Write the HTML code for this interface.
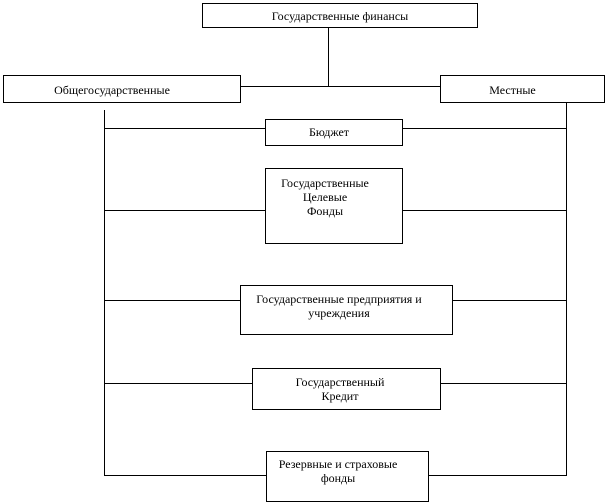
<!DOCTYPE html>
<html><head><meta charset="utf-8"><style>
html,body{margin:0;padding:0;background:#fff;}
body{width:605px;height:504px;position:relative;overflow:hidden;font-family:"Liberation Serif","DejaVu Serif",serif;font-size:12px;color:#000;}
.b{position:absolute;border:1px solid #000;box-sizing:border-box;background:#fff;line-height:14px;}
.l{position:absolute;background:#000;}
.t{position:absolute;white-space:nowrap;line-height:14px;}
</style></head><body>
<div class="l" style="left:328px;top:27px;width:1px;height:60px"></div>
<div class="l" style="left:240px;top:86px;width:200px;height:1px"></div>
<div class="l" style="left:104px;top:110px;width:1px;height:366px"></div>
<div class="l" style="left:566px;top:102px;width:1px;height:374px"></div>
<div class="l" style="left:104px;top:128px;width:462px;height:1px"></div>
<div class="l" style="left:104px;top:210px;width:462px;height:1px"></div>
<div class="l" style="left:104px;top:300px;width:462px;height:1px"></div>
<div class="l" style="left:104px;top:383px;width:462px;height:1px"></div>
<div class="l" style="left:104px;top:475px;width:462px;height:1px"></div>

<div class="b" style="left:202px;top:3px;width:276px;height:25px;text-align:center;padding-top:5px">Государственные финансы</div>
<div class="b" style="left:3px;top:75px;width:238px;height:28px;text-align:center;padding-top:7px;padding-right:20px">Общегосударственные</div>
<div class="b" style="left:440px;top:75px;width:165px;height:28px;text-align:center;padding-top:7px;padding-right:20px">Местные</div>
<div class="b" style="left:265px;top:119px;width:138px;height:27px;text-align:center;padding-top:5px;padding-right:10px">Бюджет</div>
<div class="b" style="left:265px;top:168px;width:138px;height:76px;"></div>
<div class="t" style="left:270px;top:176px;width:110px;text-align:center">Государственные<br>Целевые<br>Фонды</div>
<div class="b" style="left:240px;top:285px;width:213px;height:50px;"></div>
<div class="t" style="left:244px;top:292px;width:190px;text-align:center">Государственные предприятия и<br>учреждения</div>
<div class="b" style="left:252px;top:368px;width:189px;height:42px;"></div>
<div class="t" style="left:285px;top:375px;width:110px;text-align:center">Государственный<br>Кредит</div>
<div class="b" style="left:266px;top:451px;width:163px;height:51px;"></div>
<div class="t" style="left:271px;top:457px;width:134px;text-align:center">Резервные и страховые<br>фонды</div>
</body></html>
